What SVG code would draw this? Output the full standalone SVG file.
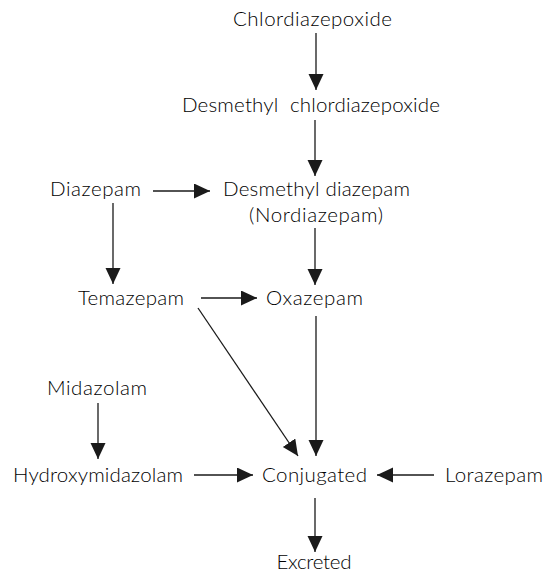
<svg xmlns="http://www.w3.org/2000/svg" width="551" height="573" viewBox="0 0 551 573">
<style>
text{font-family:Lato,"Open Sans","Liberation Sans",sans-serif;font-weight:300;font-size:20.5px;fill:#000;text-anchor:middle;white-space:pre}
.c line{stroke:#1a1a1a;stroke-width:1.3;marker-end:url(#ah)}
</style>
<defs>
<marker id="ah" markerUnits="userSpaceOnUse" markerWidth="17" markerHeight="16" refX="16" refY="7.5" orient="auto" viewBox="0 0 17 16">
<path d="M0,0 L16,7.5 L0,15 z" fill="#1a1a1a"/>
</marker>
</defs>
<rect width="551" height="573" fill="#fff"/>
<g id="chlordiazepoxide"><text x="312.5" y="26" textLength="159">Chlordiazepoxide</text></g>
<g id="desmethyl-chlordiazepoxide"><text x="311" y="112" textLength="258">Desmethyl  chlordiazepoxide</text></g>
<g id="diazepam"><text x="95.5" y="196" textLength="91">Diazepam</text></g>
<g id="desmethyl-diazepam"><text x="316.5" y="196" textLength="187">Desmethyl diazepam</text><text x="316" y="222" textLength="134">(Nordiazepam)</text></g>
<g id="temazepam"><text x="131" y="305" textLength="106">Temazepam</text></g>
<g id="oxazepam"><text x="314.5" y="305" textLength="97">Oxazepam</text></g>
<g id="midazolam"><text x="97" y="395" textLength="100">Midazolam</text></g>
<g id="hydroxymidazolam"><text x="98" y="482" textLength="170">Hydroxymidazolam</text></g>
<g id="conjugated"><text x="314.5" y="482" textLength="105">Conjugated</text></g>
<g id="lorazepam"><text x="494" y="482" textLength="98">Lorazepam</text></g>
<g id="excreted"><text x="314" y="569" textLength="75">Excreted</text></g>
<g id="connectors" class="c">
<line x1="316" y1="33" x2="316" y2="90"/>
<line x1="315" y1="120" x2="315" y2="176"/>
<line x1="153" y1="191" x2="210" y2="191"/>
<line x1="113" y1="203" x2="113" y2="284"/>
<line x1="315" y1="228" x2="315" y2="285"/>
<line x1="201" y1="298" x2="257" y2="298"/>
<line x1="198" y1="308" x2="298" y2="456"/>
<line x1="316" y1="316" x2="316" y2="456"/>
<line x1="98" y1="403" x2="98" y2="459"/>
<line x1="194" y1="475" x2="253" y2="475"/>
<line x1="434" y1="475" x2="377" y2="475"/>
<line x1="315" y1="498" x2="315" y2="552"/>
</g>
</svg>
